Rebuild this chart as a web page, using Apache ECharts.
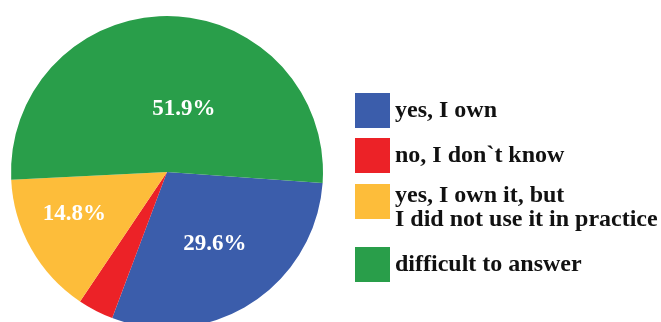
<!DOCTYPE html>
<html>
<head>
<meta charset="utf-8">
<script src="https://cdn.jsdelivr.net/npm/echarts@6/dist/echarts.min.js"></script>
<style>
  html, body { margin: 0; padding: 0; background: #ffffff; }
  #chart { width: 661px; height: 322px; }
</style>
</head>
<body>
<div id="chart"></div>
<script>
// Answer categories and their shares of respondents (%)
const categories = [
  'yes, I own',
  'no, I don`t know',
  'yes, I own it, but\nI did not use it in practice',
  'difficult to answer'
];
const shares = [29.6, 3.7, 14.8, 51.9];
const sliceColors = ['#3B5DAB', '#EC2227', '#FDBD3A', '#299E4A'];
// Which slices carry a percentage label
const showLabel = [true, false, true, true];

// Small nudges of the inside labels away from the slice midpoints
const labelNudges = [[4, 4], [0, 0], [-22, 2], [16, 18]];
// Top edge of each legend entry, and a spacer that lowers multi-line text
const legendTops = [93, 138, 171, 247];
const legendSpacer = [0, 0, 13, 0];

const serif = '"Liberation Serif", "Times New Roman", serif';
const legendFont = {
  fontFamily: serif,
  fontWeight: 'bold',
  fontSize: 24,
  lineHeight: 24,
  color: '#111111'
};

const chart = echarts.init(document.getElementById('chart'), null, { renderer: 'canvas' });

const legends = categories.map((name, i) => ({
  data: [name],
  orient: 'vertical',
  left: 355,
  top: legendTops[i],
  icon: 'rect',
  itemWidth: 35,
  itemHeight: 35,
  itemGap: 0,
  selectedMode: false,
  padding: 0,
  formatter: function (n) {
    const lines = n.split('\n').map(l => '{t|' + l + '}');
    if (legendSpacer[i] > 0) lines.unshift('{s| }');
    return lines.join('\n');
  },
  textStyle: Object.assign({}, legendFont, {
    rich: {
      t: legendFont,
      s: { fontSize: 1, lineHeight: legendSpacer[i] || 1 }
    }
  })
}));

chart.setOption({
  animation: false,
  color: sliceColors,
  legend: legends,
  series: [{
    type: 'pie',
    center: [167, 172],
    radius: [0, 156],
    startAngle: -4,
    clockwise: true,
    avoidLabelOverlap: false,
    itemStyle: { borderWidth: 0 },
    label: {
      position: 'inside',
      formatter: '{c}%',
      color: '#ffffff',
      fontFamily: serif,
      fontWeight: 'bold',
      fontSize: 23
    },
    labelLine: { show: false },
    emphasis: { disabled: true },
    labelLayout: function (params) {
      const n = labelNudges[params.dataIndex];
      return { dx: n[0], dy: n[1] };
    },
    data: categories.map((name, i) => ({
      name: name,
      value: shares[i],
      label: { show: showLabel[i] }
    }))
  }]
});
</script>
</body>
</html>
